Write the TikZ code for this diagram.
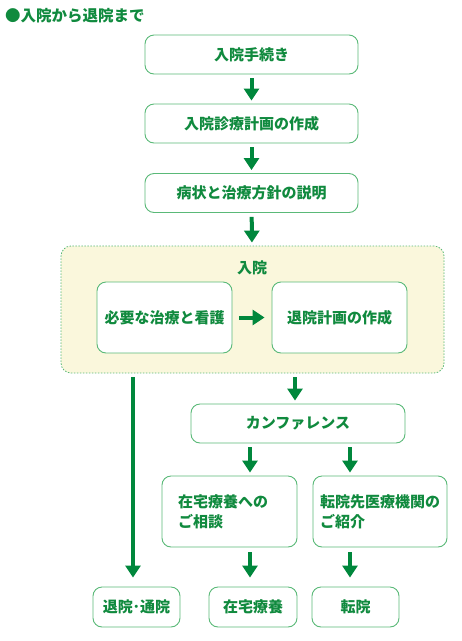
\documentclass[tikz,border=0pt]{standalone}
\usepackage{fontspec}
\setmainfont{Noto Sans CJK JP}
\usetikzlibrary{arrows.meta}
\definecolor{gtext}{RGB}{16,138,62}
\definecolor{garrow}{RGB}{0,135,60}
\definecolor{gborder}{RGB}{90,185,120}
\definecolor{cream}{RGB}{250,247,220}
\begin{document}
\begin{tikzpicture}[x=1pt,y=-1pt,
 box/.style={draw=gborder,line width=0.9pt,rounded corners=9pt,fill=white,
   font=\fontsize{15}{20}\selectfont\bfseries,text=gtext,inner sep=0pt,align=left},
 flow/.style={draw=garrow,line width=4pt,-{Triangle[width=15pt,length=12pt]},shorten <=4pt,shorten >=3pt}]
\useasboundingbox (0,0) rectangle (462,641);
\node[anchor=west,font=\fontsize{15.5}{15.5}\selectfont\bfseries,text=gtext,inner sep=0pt] (title) at (5,16) {●入院から退院まで};
\node[box,minimum width=213pt,minimum height=39pt] (t1) at (251.5,54.5) {入院手続き};
\node[box,minimum width=213pt,minimum height=39pt] (t2) at (251.5,123.5) {入院診療計画の作成};
\node[box,minimum width=213pt,minimum height=39pt] (t3) at (251.5,193) {病状と治療方針の説明};
\node[draw=gborder,line width=0.8pt,dash pattern=on 1.5pt off 1.5pt,rounded corners=10pt,fill=cream,
  minimum width=383pt,minimum height=127pt,inner sep=0pt] (cont) at (252.5,309.5) {};
\node[font=\fontsize{15}{15}\selectfont\bfseries,text=gtext,inner sep=0pt] (contlabel) at (252,268) {入院};
\node[box,minimum width=135pt,minimum height=71pt] (in1) at (164.5,317.5) {必要な治療と看護};
\node[box,minimum width=135pt,minimum height=71pt] (in2) at (339.5,317.5) {退院計画の作成};
\node[box,minimum width=214pt,minimum height=39pt] (conf) at (298,423.5) {カンファレンス};
\node[box,minimum width=135pt,minimum height=71pt,text width=103pt] (home) at (229.5,511.5) {在宅療養への\\ご相談};
\node[box,minimum width=134pt,minimum height=71pt] (trans) at (380,511.5) {転院先医療機関の\\ご紹介};
\node[box,minimum width=87pt,minimum height=40pt] (out) at (136.5,607) {退院･通院};
\node[box,minimum width=88pt,minimum height=40pt] (homeEnd) at (253,607) {在宅療養};
\node[box,minimum width=87pt,minimum height=40pt] (transEnd) at (355.5,607) {転院};
\coordinate (xa) at (250,0);
\coordinate (xb) at (350,0);
\coordinate (xl) at (133,0);
\coordinate (xc) at (295,0);
\draw[flow] (t1) -- (t2);
\draw[flow] (t2) -- (t3);
\draw[flow] (t3) -- (cont);
\draw[flow,shorten <=7pt,shorten >=7pt] (in1) -- (in2);
\draw[flow] (xc |- cont.south) -- (xc |- conf.north);
\draw[flow,shorten >=9pt] (xl |- cont.south) -- (xl |- out.north);
\draw[flow] (xa |- conf.south) -- (xa |- home.north);
\draw[flow] (xb |- conf.south) -- (xb |- trans.north);
\draw[flow,shorten <=5pt,shorten >=9pt] (xa |- home.south) -- (xa |- homeEnd.north);
\draw[flow,shorten <=5pt,shorten >=9pt] (xb |- trans.south) -- (xb |- transEnd.north);
\end{tikzpicture}
\end{document}
